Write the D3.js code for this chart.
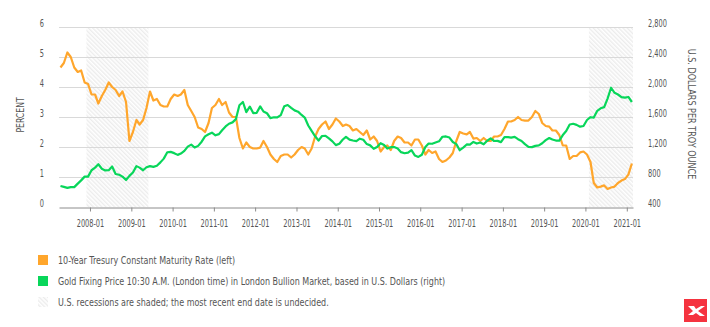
<!DOCTYPE html>
<html>
<head>
<meta charset="utf-8">
<script src="https://cdn.jsdelivr.net/npm/d3@7"></script>
<style>
  body { margin: 0; background: #fff; }
  svg text { font-family: "DejaVu Sans Condensed", "DejaVu Sans", sans-serif; fill: #555; }
</style>
</head>
<body>
<script>
// monthly readings, first point is April 2007, last is February 2021
var firstMonth = "2007-04";

// 10-year treasury, percent (left axis)
var treasury = [
  4.65, 4.8, 5.15, 5.0, 4.65, 4.5, 4.55, 4.15, 4.1,
  3.75, 3.75, 3.45, 3.7, 3.9, 4.15, 4.0, 3.9, 3.7, 3.85, 3.5, 2.2,
  2.5, 2.9, 2.75, 2.9, 3.3, 3.85, 3.55, 3.6, 3.4, 3.35, 3.35, 3.6,
  3.75, 3.7, 3.75, 3.9, 3.4, 3.2, 3.0, 2.65, 2.6, 2.5, 2.8, 3.3,
  3.4, 3.6, 3.4, 3.5, 3.15, 3.0, 3.0, 2.3, 1.95, 2.15, 2.0, 1.95,
  1.95, 1.98, 2.2, 2.0, 1.75, 1.6, 1.5, 1.7, 1.75, 1.75, 1.65, 1.75,
  1.9, 2.0, 1.95, 1.75, 1.95, 2.35, 2.6, 2.75, 2.85, 2.6, 2.75, 2.95,
  2.85, 2.7, 2.75, 2.7, 2.55, 2.6, 2.5, 2.4, 2.55, 2.25, 2.35, 2.2,
  1.85, 2.0, 2.05, 1.9, 2.2, 2.35, 2.3, 2.15, 2.15, 2.05, 2.25, 2.25,
  2.05, 1.75, 1.9, 1.8, 1.85, 1.6, 1.5, 1.55, 1.65, 1.8, 2.2, 2.5,
  2.45, 2.42, 2.5, 2.28, 2.3, 2.2, 2.3, 2.2, 2.2, 2.35, 2.35, 2.4,
  2.6, 2.85, 2.85, 2.9, 3.0, 2.9, 2.88, 2.88, 3.0, 3.2, 3.1, 2.8,
  2.7, 2.68, 2.55, 2.55, 2.4, 2.05, 2.05, 1.6, 1.7, 1.7, 1.82, 1.85,
  1.75, 1.5, 0.8, 0.65, 0.68, 0.72, 0.6, 0.65, 0.68, 0.8, 0.88, 0.93,
  1.08, 1.45
];

// gold fixing price, USD per troy ounce (right axis)
var gold = [
  680, 668, 655, 665, 665, 712, 755, 805, 805,
  890, 925, 970, 910, 888, 890, 940, 840, 830, 805, 760, 815,
  860, 945, 925, 890, 930, 945, 935, 950, 995, 1045, 1130, 1135,
  1118, 1095, 1113, 1148, 1205, 1232, 1193, 1215, 1271, 1342, 1370, 1391,
  1356, 1372, 1424, 1474, 1510, 1528, 1572, 1756, 1800, 1665, 1739, 1652,
  1656, 1742, 1673, 1650, 1585, 1596, 1594, 1626, 1744, 1760, 1721, 1688,
  1671, 1627, 1593, 1487, 1414, 1343, 1286, 1347, 1349, 1316, 1275, 1225,
  1244, 1300, 1336, 1299, 1287, 1279, 1311, 1296, 1239, 1222, 1176, 1200,
  1251, 1227, 1179, 1198, 1199, 1181, 1131, 1117, 1125, 1159, 1086, 1068,
  1097, 1200, 1246, 1243, 1260, 1276, 1337, 1341, 1326, 1267, 1238, 1157,
  1192, 1234, 1231, 1267, 1246, 1260, 1236, 1283, 1314, 1280, 1282, 1265,
  1331, 1331, 1325, 1335, 1304, 1281, 1238, 1202, 1198, 1215, 1221, 1250,
  1291, 1320, 1300, 1286, 1284, 1359, 1413, 1500, 1510, 1495, 1471, 1480,
  1560, 1597, 1592, 1683, 1716, 1732, 1846, 1990, 1922, 1900, 1866, 1858,
  1867, 1800
];

// recession periods (second one still open)
var recessionStart = ["2007-12-01", "2020-02-01"];
var recessionEnd = ["2009-06-01", "2021-02-25"];

var leftTicks = [0, 1, 2, 3, 4, 5, 6];
var rightTicks = [400, 800, 1200, 1600, 2000, 2400, 2800];
var yearTicks = ["2008-01", "2009-01", "2010-01", "2011-01", "2012-01", "2013-01", "2014-01",
  "2015-01", "2016-01", "2017-01", "2018-01", "2019-01", "2020-01", "2021-01"];

var legendLabels = [
  "10-Year Tresury Constant Maturity Rate (left)",
  "Gold Fixing Price 10:30 A.M. (London time) in London Bullion Market, based in U.S. Dollars (right)",
  "U.S. recessions are shaded; the most recent end date is undecided."
];

var orange = "#ffa62c";
var green = "#08d65a";

var width = 710, height = 327;
var plot_left = 59, plot_right = 633, plot_top = 27, plot_bottom = 207;

// the original font is a narrow DIN-like face, squeeze the fallback
var numSqueeze = 0.7;
var textSqueeze = 0.89;

var parseMonth = d3.timeParse("%Y-%m");
var parseDay = d3.timeParse("%Y-%m-%d");
var start = parseMonth(firstMonth);

// points sit in the middle of their month
var midMonth = function(i) {
  return d3.timeDay.offset(d3.timeMonth.offset(start, i), 14);
};

var svg = d3.select("body").append("svg")
  .attr("width", width)
  .attr("height", height);

var x = d3.scaleTime()
  .domain([parseDay("2007-04-02"), parseDay("2021-02-25")])
  .range([plot_left, plot_right]);

var yLeft = d3.scaleLinear().domain([0, 6]).range([plot_bottom, plot_top]);
var yRight = d3.scaleLinear().domain([400, 2800]).range([plot_bottom, plot_top]);

// hatch pattern for recessions
var defs = svg.append("defs");
var pat = defs.append("pattern")
  .attr("id", "hatch")
  .attr("patternUnits", "userSpaceOnUse")
  .attr("width", 3)
  .attr("height", 3)
  .attr("patternTransform", "rotate(-45)");
pat.append("rect").attr("width", 3).attr("height", 3).attr("fill", "#fff");
pat.append("line")
  .attr("x1", 0.75).attr("y1", 0).attr("x2", 0.75).attr("y2", 3)
  .attr("stroke", "#e9e9e9")
  .attr("stroke-width", 1.2);

svg.selectAll(".recession")
  .data(recessionStart)
  .enter().append("rect")
  .attr("class", "recession")
  .attr("x", function(d) { return x(parseDay(d)); })
  .attr("y", plot_top)
  .attr("width", function(d, i) { return x(parseDay(recessionEnd[i])) - x(parseDay(d)); })
  .attr("height", plot_bottom - plot_top)
  .attr("fill", "url(#hatch)");

// gridlines
svg.selectAll(".grid")
  .data(leftTicks.slice(1))
  .enter().append("line")
  .attr("class", "grid")
  .attr("x1", plot_left)
  .attr("x2", plot_right)
  .attr("y1", function(d) { return yLeft(d) + 0.5; })
  .attr("y2", function(d) { return yLeft(d) + 0.5; })
  .attr("stroke", "#d9d9d9")
  .attr("stroke-width", 1);

// bottom axis
var xAxis = d3.axisBottom(x)
  .tickValues(yearTicks.map(function(d) { return parseMonth(d); }))
  .tickFormat(d3.timeFormat("%Y-%m"))
  .tickSize(4)
  .tickSizeOuter(0);

var gx = svg.append("g")
  .attr("transform", "translate(0," + (plot_bottom + 0.5) + ")")
  .call(xAxis);
gx.select(".domain").attr("stroke", "#8c8c8c");
gx.selectAll(".tick line").attr("stroke", "#8c8c8c");
gx.selectAll(".tick text")
  .attr("y", 12)
  .attr("font-size", 10.5)
  .attr("fill", "#3a3a3a")
  .attr("transform", "scale(" + numSqueeze + ",1)");

// left axis labels
svg.selectAll(".ly")
  .data(leftTicks)
  .enter().append("text")
  .attr("class", "ly")
  .attr("transform", function(d) { return "translate(44," + yLeft(d) + ") scale(" + numSqueeze + ",1)"; })
  .attr("text-anchor", "end")
  .attr("font-size", 10.5)
  .text(function(d) { return d; });

// right axis labels
svg.selectAll(".ry")
  .data(rightTicks)
  .enter().append("text")
  .attr("class", "ry")
  .attr("transform", function(d) { return "translate(648," + yRight(d) + ") scale(" + numSqueeze + ",1)"; })
  .attr("font-size", 10.5)
  .text(function(d) { return d3.format(",")(d); });

svg.append("text")
  .attr("transform", "translate(24,115) rotate(-90) scale(0.86,1)")
  .attr("text-anchor", "middle")
  .attr("font-size", 10)
  .text("PERCENT");

svg.append("text")
  .attr("transform", "translate(688,114) rotate(90) scale(0.9,1)")
  .attr("text-anchor", "middle")
  .attr("font-size", 10)
  .text("U.S. DOLLARS PER TROY OUNCE");

// lines
var treasuryLine = d3.line()
  .x(function(d, i) { return x(midMonth(i)); })
  .y(function(d) { return yLeft(d); });

var goldLine = d3.line()
  .x(function(d, i) { return x(midMonth(i)); })
  .y(function(d) { return yRight(d); });

svg.append("path")
  .datum(treasury)
  .attr("d", treasuryLine)
  .attr("fill", "none")
  .attr("stroke", orange)
  .attr("stroke-width", 2.2)
  .attr("stroke-linejoin", "round");

svg.append("path")
  .datum(gold)
  .attr("d", goldLine)
  .attr("fill", "none")
  .attr("stroke", green)
  .attr("stroke-width", 2.2)
  .attr("stroke-linejoin", "round");

// legend
var legendFill = [orange, green, "url(#hatch)"];
var legend = svg.selectAll(".legend")
  .data(legendLabels)
  .enter().append("g")
  .attr("class", "legend")
  .attr("transform", function(d, i) { return "translate(38," + (255 + i * 21) + ")"; });

legend.append("rect")
  .attr("width", 10)
  .attr("height", 10)
  .attr("fill", function(d, i) { return legendFill[i]; });

legend.append("text")
  .attr("transform", "translate(20,9) scale(" + textSqueeze + ",1)")
  .attr("font-size", 10)
  .text(function(d) { return d; });

// logo in the corner
var logo = svg.append("g").attr("transform", "translate(684,299)");
logo.append("rect").attr("width", 23).attr("height", 23).attr("fill", "#f5333f");
logo.append("path")
  .attr("d", "M4,7 L10,7 L12,10 L17,7 L21,7 L14,12 L21,17 L16,17 L12,14 L9,16 L4,16 L9,12 Z")
  .attr("fill", "#fff");
</script>
</body>
</html>
